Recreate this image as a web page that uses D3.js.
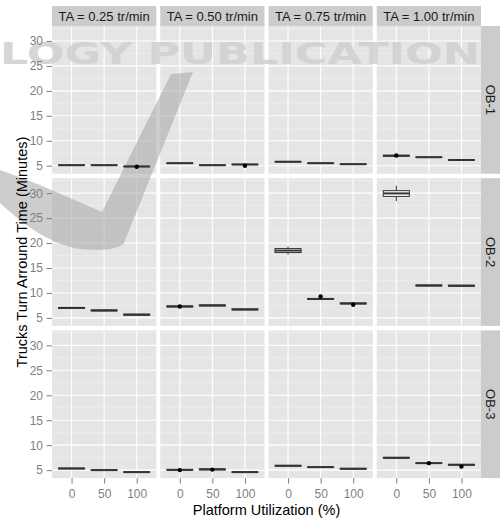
<!DOCTYPE html>
<html>
<head>
<meta charset="utf-8">
<script src="https://cdn.jsdelivr.net/npm/d3@7"></script>
<style>
  body { margin: 0; background: #fff; }
  text { font-family: "Liberation Sans", Arial, sans-serif; }
</style>
</head>
<body>
<div id="chart"></div>
<script>
const utilization = ["0", "50", "100"];
const taLabels = ["TA = 0.25 tr/min", "TA = 0.50 tr/min", "TA = 0.75 tr/min", "TA = 1.00 tr/min"];
const obLabels = ["OB-1", "OB-2", "OB-3"];
const yTicks = [5, 10, 15, 20, 25, 30];

// [lower whisker, q1, median, q3, upper whisker] for each TA column, then utilization 0 / 50 / 100
const ob1Boxes = [
  [[5.0, 5.05, 5.1, 5.15, 5.2], [5.0, 5.05, 5.1, 5.15, 5.2], [4.75, 4.8, 4.85, 4.9, 4.95]],
  [[5.4, 5.45, 5.5, 5.55, 5.6], [5.0, 5.05, 5.1, 5.15, 5.2], [5.1, 5.2, 5.25, 5.3, 5.4]],
  [[5.7, 5.75, 5.8, 5.85, 5.9], [5.4, 5.45, 5.5, 5.55, 5.6], [5.2, 5.25, 5.3, 5.35, 5.4]],
  [[6.85, 6.9, 7.0, 7.1, 7.15], [6.6, 6.65, 6.7, 6.75, 6.8], [6.05, 6.1, 6.15, 6.2, 6.25]],
];
const ob2Boxes = [
  [[6.85, 6.9, 7.0, 7.1, 7.15], [6.35, 6.4, 6.5, 6.6, 6.65], [5.5, 5.55, 5.65, 5.75, 5.8]],
  [[7.15, 7.2, 7.3, 7.4, 7.45], [7.35, 7.4, 7.5, 7.6, 7.65], [6.55, 6.6, 6.7, 6.8, 6.85]],
  [[17.7, 18.1, 18.5, 18.9, 19.3], [8.65, 8.7, 8.8, 8.9, 8.95], [7.75, 7.8, 7.9, 8.0, 8.05]],
  [[28.4, 29.35, 29.95, 30.5, 31.5], [11.35, 11.4, 11.5, 11.6, 11.65], [11.3, 11.35, 11.45, 11.55, 11.6]],
];
const ob3Boxes = [
  [[5.2, 5.25, 5.33, 5.4, 5.45], [4.9, 4.95, 5.0, 5.05, 5.1], [4.5, 4.55, 4.6, 4.65, 4.7]],
  [[4.95, 5.0, 5.06, 5.12, 5.15], [5.0, 5.05, 5.15, 5.25, 5.3], [4.5, 4.55, 4.6, 4.65, 4.7]],
  [[5.75, 5.8, 5.87, 5.95, 6.0], [5.5, 5.55, 5.6, 5.65, 5.7], [5.15, 5.2, 5.27, 5.35, 5.4]],
  [[7.35, 7.4, 7.47, 7.55, 7.6], [6.3, 6.35, 6.4, 6.45, 6.5], [5.95, 6.0, 6.07, 6.15, 6.2]],
];
// outlying points, same layout
const ob1Outliers = [[[], [], [4.8]], [[], [], [5.0]], [[], [], []], [[7.05], [], []]];
const ob2Outliers = [[[], [], []], [[7.3], [], []], [[], [9.3], [7.65]], [[], [], []]];
const ob3Outliers = [[[], [], []], [[5.0], [5.1], []], [[], [], []], [[], [6.4], [5.7]]];

const boxes = [ob1Boxes, ob2Boxes, ob3Boxes];
const outliers = [ob1Outliers, ob2Outliers, ob3Outliers];

const rootWidth = 501;
const rootHeight = 520;
const marginLeft = 52;
const marginTop = 26;
const panelW = 104.25;
const panelH = 147.7;
const colGap = 4;
const rowGap = 4.5;
const stripH = 20;
const stripW = 19;

const root = d3
  .select("#chart")
  .append("svg")
  .attr("width", rootWidth)
  .attr("height", rootHeight);

const yScale = d3.scaleLinear().domain([3.4, 33.0]).range([panelH, 0]);
const xScale = d3.scalePoint().domain(utilization).range([0, panelW]).padding(0.6);
const boxW = xScale.step() * 0.8;
const yMinor = yTicks.map((t) => t + 2.5);

const colX = (c) => marginLeft + c * (panelW + colGap);
const rowY = (r) => marginTop + r * (panelH + rowGap);

const base = root.append("g");
const wm = root.append("g");
const marks = root.append("g");

// panels, grid, strips
obLabels.forEach((ob, r) => {
  taLabels.forEach((ta, c) => {
    const p = base.append("g").attr("transform", `translate(${colX(c)}, ${rowY(r)})`);
    p.append("rect").attr("width", panelW).attr("height", panelH).attr("fill", "#E5E5E5");
    p.selectAll(".minor")
      .data(yMinor)
      .join("line")
      .attr("class", "minor")
      .attr("x1", 0)
      .attr("x2", panelW)
      .attr("y1", (d) => yScale(d))
      .attr("y2", (d) => yScale(d))
      .attr("stroke", "#F2F2F2")
      .attr("stroke-width", 0.6);
    p.selectAll(".majorY")
      .data(yTicks)
      .join("line")
      .attr("class", "majorY")
      .attr("x1", 0)
      .attr("x2", panelW)
      .attr("y1", (d) => yScale(d))
      .attr("y2", (d) => yScale(d))
      .attr("stroke", "#fff")
      .attr("stroke-width", 1.1);
    p.selectAll(".majorX")
      .data(utilization)
      .join("line")
      .attr("class", "majorX")
      .attr("x1", (d) => xScale(d))
      .attr("x2", (d) => xScale(d))
      .attr("y1", 0)
      .attr("y2", panelH)
      .attr("stroke", "#fff")
      .attr("stroke-width", 1.1);

    // boxplots
    const m = marks.append("g").attr("transform", `translate(${colX(c)}, ${rowY(r)})`);
    boxes[r][c].forEach((s, i) => {
      const cx = xScale(utilization[i]);
      const [lo, q1, med, q3, hi] = s;
      m.append("line")
        .attr("x1", cx).attr("x2", cx)
        .attr("y1", yScale(hi)).attr("y2", yScale(lo))
        .attr("stroke", "#333").attr("stroke-width", 1);
      m.append("rect")
        .attr("x", cx - boxW / 2)
        .attr("width", boxW)
        .attr("y", yScale(q3))
        .attr("height", yScale(q1) - yScale(q3))
        .attr("fill", "#fff")
        .attr("stroke", "#333")
        .attr("stroke-width", 1);
      m.append("line")
        .attr("x1", cx - boxW / 2).attr("x2", cx + boxW / 2)
        .attr("y1", yScale(med)).attr("y2", yScale(med))
        .attr("stroke", "#333").attr("stroke-width", 2);
      m.selectAll(null)
        .data(outliers[r][c][i])
        .join("circle")
        .attr("cx", cx)
        .attr("cy", (d) => yScale(d))
        .attr("r", 2.2)
        .attr("fill", "#000");
    });

    if (c === 0) {
      const ya = m.append("g").call(d3.axisLeft(yScale).tickValues(yTicks).tickSize(5.5).tickPadding(3.5));
      ya.select(".domain").remove();
      ya.selectAll("line").attr("stroke", "#7F7F7F");
      ya.selectAll("text").attr("fill", "#7F7F7F").attr("font-size", 12).attr("font-family", null);
    }
    if (r === obLabels.length - 1) {
      const xa = m.append("g")
        .attr("transform", `translate(0, ${panelH})`)
        .call(d3.axisBottom(xScale).tickSize(5.5).tickPadding(5.5));
      xa.select(".domain").remove();
      xa.selectAll("line").attr("stroke", "#7F7F7F");
      xa.selectAll("text").attr("fill", "#7F7F7F").attr("font-size", 12).attr("font-family", null);
    }
  });

  // right strip
  const ry = rowY(r);
  base.append("rect")
    .attr("x", colX(3) + panelW)
    .attr("y", ry)
    .attr("width", stripW)
    .attr("height", panelH)
    .attr("fill", "#CCCCCC");
  marks.append("text")
    .attr("transform", `translate(${colX(3) + panelW + stripW / 2}, ${ry + panelH / 2}) rotate(90)`)
    .attr("text-anchor", "middle")
    .attr("dy", "0.35em")
    .attr("font-size", 13)
    .attr("fill", "#1A1A1A")
    .text(ob);
});

// top strips
taLabels.forEach((ta, c) => {
  base.append("rect")
    .attr("x", colX(c))
    .attr("y", marginTop - stripH)
    .attr("width", panelW)
    .attr("height", stripH)
    .attr("fill", "#CCCCCC");
  marks.append("text")
    .attr("x", colX(c) + panelW / 2)
    .attr("y", marginTop - stripH / 2)
    .attr("dy", "0.36em")
    .attr("text-anchor", "middle")
    .attr("font-size", 13)
    .attr("fill", "#1A1A1A")
    .text(ta);
});

// watermark (between grid and marks)
wm.append("text")
  .attr("x", 0)
  .attr("y", 63.5)
  .attr("textLength", 480)
  .attr("lengthAdjust", "spacingAndGlyphs")
  .attr("font-size", 30)
  .attr("font-weight", "bold")
  .style("font-family", "'DejaVu Sans'")
  .attr("fill", "#D0D0D0")
  .attr("opacity", 0.85)
  .text("LOGY PUBLICATION");
wm.append("path")
  .attr("d", "M0,170 C35,182 70,198 102,212 L171,74 L193,72 L124,243 C118,250 100,251 80,249 C50,244 25,226 0,203 Z")
  .attr("fill", "#A8A8A8")
  .attr("opacity", 0.58);

// axis titles
root.append("text")
  .attr("x", colX(0) + (colX(3) + panelW - colX(0)) / 2)
  .attr("y", 515)
  .attr("text-anchor", "middle")
  .attr("font-size", 14.5)
  .attr("fill", "#000")
  .text("Platform Utilization (%)");
root.append("text")
  .attr("transform", `translate(26.5, ${marginTop + (rowY(2) + panelH - marginTop) / 2}) rotate(-90)`)
  .attr("text-anchor", "middle")
  .attr("font-size", 14.5)
  .attr("fill", "#000")
  .text("Trucks Turn Arround Time (Minutes)");
</script>
</body>
</html>
